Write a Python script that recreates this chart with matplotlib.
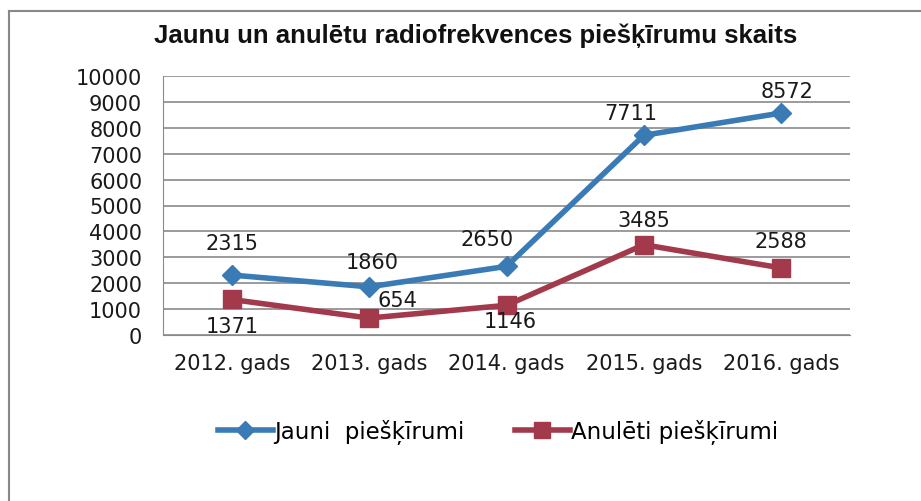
import matplotlib
matplotlib.use("Agg")
from matplotlib import pyplot as plt
from matplotlib.lines import Line2D

years = ["2012. gads", "2013. gads", "2014. gads", "2015. gads", "2016. gads"]
jauni = [2315, 1860, 2650, 7711, 8572]
anuleti = [1371, 654, 1146, 3485, 2588]

BLUE = "#3a7bb5"
RED = "#a33a4b"

# value label offsets from the marker, in pixels (dx, dy; dy up is positive)
jauni_off = [(0, 32), (3, 25), (-19, 27), (-13, 22), (6, 22)]
anuleti_off = [(0, -27), (28, 18), (4, -16), (0, 25), (0, 27)]

W, H = 921, 502
fig = plt.figure(figsize=(W / 100, H / 100), dpi=100)
ax = fig.add_axes([163 / W, 1 - 336 / H, (850 - 163) / W, (336 - 77) / H])

x = range(len(years))
ax.plot(x, jauni, color=BLUE, lw=4, marker="D", ms=10, zorder=3)
ax.plot(x, anuleti, color=RED, lw=4, marker="s", ms=13, zorder=3)

for vals, offs in [(jauni, jauni_off), (anuleti, anuleti_off)]:
    for i, v in enumerate(vals):
        dx, dy = offs[i]
        ax.annotate(str(v), (i, v), xytext=(dx * 0.72, dy * 0.72),
                    textcoords="offset points", ha="center", va="center",
                    fontsize=15, color="#1a1a1a", zorder=4)

ax.set_xlim(-0.5, len(years) - 0.5)
ax.set_ylim(0, 10000)
ax.set_yticks(range(0, 10001, 1000))
ax.set_xticks(list(x))
ax.set_xticklabels(years)
ax.tick_params(axis="both", length=0, labelsize=15, colors="#1a1a1a")
ax.tick_params(axis="x", pad=13)
ax.tick_params(axis="y", pad=15)
ax.yaxis.grid(True, color="#8a8a8a", lw=1.2)
ax.set_axisbelow(True)
for side in ["top", "right"]:
    ax.spines[side].set_visible(False)
ax.spines["left"].set_color("#8a8a8a")
ax.spines["bottom"].set_color("#8a8a8a")

fig.text(476 / W, 1 - 36 / H, "Jaunu un anulētu radiofrekvences piešķīrumu skaits",
         ha="center", va="center", fontsize=18.5, fontweight="bold",
         family="Liberation Sans", color="#111111")

handles = [
    Line2D([], [], color=BLUE, lw=4, marker="D", ms=9),
    Line2D([], [], color=RED, lw=4, marker="s", ms=11),
]
fig.legend(handles, ["Jauni  piešķīrumi", "Anulēti piešķīrumi"],
           loc="center", bbox_to_anchor=(498 / W, 1 - 433 / H), ncol=2,
           frameon=False, fontsize=16.5, handlelength=2.4, handletextpad=0.05,
           columnspacing=2.2)

# outer chart frame (top and left edges)
fig.add_artist(Line2D([9 / W, 1], [1 - 12 / H, 1 - 12 / H], color="#888888", lw=1.5))
fig.add_artist(Line2D([9 / W, 9 / W], [0, 1 - 12 / H], color="#888888", lw=1.5))

fig.savefig("out.png", dpi=100)
